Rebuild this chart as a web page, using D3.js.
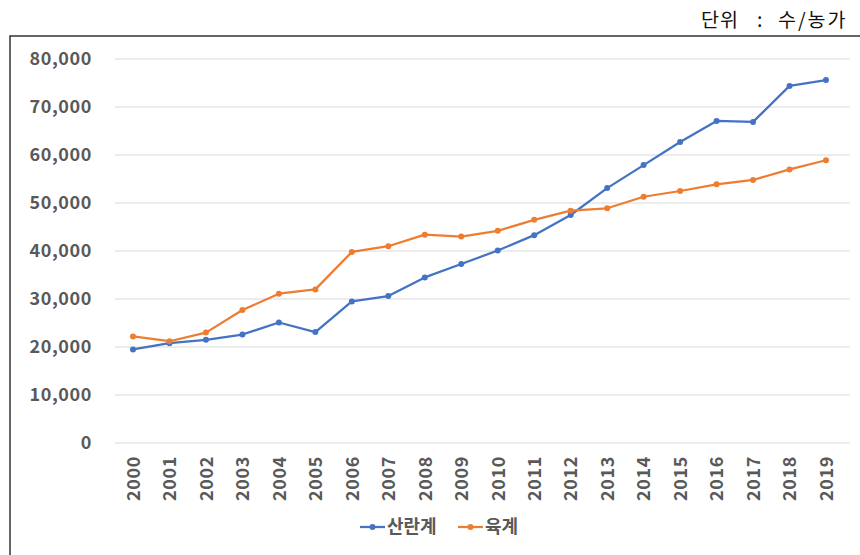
<!DOCTYPE html>
<html>
<head>
<meta charset="utf-8">
<script src="https://cdn.jsdelivr.net/npm/d3@7"></script>
<style>
  html, body { margin: 0; padding: 0; background: #fff; }
  svg { display: block; }
</style>
</head>
<body>
<svg id="chart" width="860" height="555"></svg>
<script>
// Years on the x axis
const years = ["2000","2001","2002","2003","2004","2005","2006","2007","2008","2009",
               "2010","2011","2012","2013","2014","2015","2016","2017","2018","2019"];
// Birds per farm
const layers   = [19500, 20800, 21500, 22600, 25100, 23100, 29500, 30600, 34500, 37300,
                  40100, 43300, 47500, 53100, 57900, 62700, 67100, 66900, 74400, 75600];
const broilers = [22200, 21200, 23000, 27700, 31100, 32000, 39800, 41000, 43400, 43000,
                  44200, 46500, 48400, 48900, 51300, 52500, 53900, 54800, 57000, 58900];
const yTicks = [0, 10000, 20000, 30000, 40000, 50000, 60000, 70000, 80000];
const seriesNames = ["산란계", "육계"];
const unitParts = ["단위", ":", "수/농가"];

const colors = ["#4472C4", "#ED7D31"];
const font = "'Noto Sans CJK KR', 'Noto Sans', sans-serif";

const svg = d3.select("#chart");

// Outer frame (right and bottom edges fall outside the view)
svg.append("rect")
  .attr("x", 10).attr("y", 36)
  .attr("width", 900).attr("height", 600)
  .attr("fill", "none").attr("stroke", "#333").attr("stroke-width", 1.5);

// Unit note above the frame, laid out as three spaced pieces
const unit = svg.append("text")
  .attr("y", 27)
  .attr("font-family", font).attr("font-size", 19.5)
  .attr("fill", "#111");
unit.append("tspan").attr("x", 701).attr("letter-spacing", 1).text(unitParts[0]);
unit.append("tspan").attr("x", 757).text(unitParts[1]);
unit.append("tspan").attr("x", 778).attr("letter-spacing", 2).text(unitParts[2]);

const x = d3.scalePoint().domain(years).range([133, 826]);
const y = d3.scaleLinear().domain([0, 80000]).range([443, 59]);

// Horizontal gridlines
svg.append("g").selectAll("line").data(yTicks).join("line")
  .attr("x1", 115).attr("x2", 850)
  .attr("y1", d => y(d)).attr("y2", d => y(d))
  .attr("stroke", "#d9d9d9").attr("stroke-width", 1);

// Y axis labels
const yAxis = svg.append("g")
  .attr("transform", "translate(92,0)")
  .call(d3.axisLeft(y).tickValues(yTicks).tickSize(0).tickPadding(0)
        .tickFormat(d3.format(",")));
yAxis.select(".domain").remove();
yAxis.selectAll("text")
  .attr("font-family", font).attr("font-size", 18).attr("font-weight", 700)
  .attr("letter-spacing", 0.6)
  .attr("fill", "#595959");

// X axis labels, rotated
const xAxis = svg.append("g")
  .attr("transform", "translate(0,455)")
  .call(d3.axisBottom(x).tickSize(0).tickPadding(0));
xAxis.select(".domain").remove();
xAxis.selectAll("text")
  .attr("font-family", font).attr("font-size", 18).attr("font-weight", 700)
  .attr("letter-spacing", 0.6)
  .attr("fill", "#595959")
  .attr("transform", "rotate(-90)")
  .attr("text-anchor", "end")
  .attr("dy", "0.35em")
  .attr("x", -1).attr("y", 0);

// Lines and markers
const series = [layers, broilers];
const line = d3.line().x((d, i) => x(years[i])).y(d => y(d));

series.forEach((vals, s) => {
  svg.append("path")
    .datum(vals)
    .attr("d", line)
    .attr("fill", "none")
    .attr("stroke", colors[s])
    .attr("stroke-width", 2.25)
    .attr("stroke-linejoin", "round");
  svg.append("g").selectAll("circle").data(vals).join("circle")
    .attr("cx", (d, i) => x(years[i]))
    .attr("cy", d => y(d))
    .attr("r", 3)
    .attr("fill", colors[s]);
});

// Legend
const legend = svg.append("g").attr("transform", "translate(360,527)");
const legendX = [0, 98];
seriesNames.forEach((name, s) => {
  const g = legend.append("g").attr("transform", `translate(${legendX[s]},0)`);
  g.append("line").attr("x1", 0).attr("x2", 25).attr("y1", 0).attr("y2", 0)
    .attr("stroke", colors[s]).attr("stroke-width", 2.25);
  g.append("circle").attr("cx", 12.5).attr("cy", 0).attr("r", 3).attr("fill", colors[s]);
  g.append("text").attr("x", 27).attr("y", 0).attr("dy", "0.35em")
    .attr("font-family", font).attr("font-size", 18).attr("font-weight", 700)
    .attr("fill", "#595959")
    .text(name);
});
</script>
</body>
</html>
